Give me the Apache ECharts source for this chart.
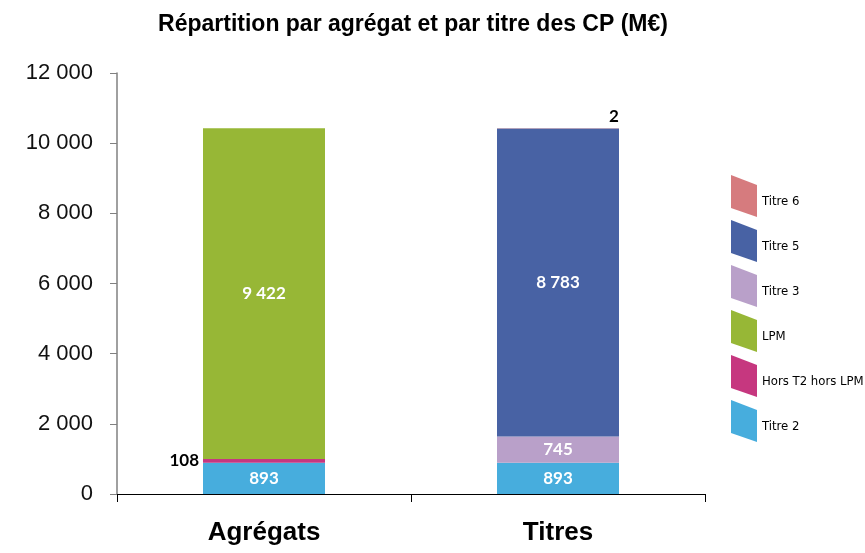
<!DOCTYPE html>
<html>
<head>
<meta charset="utf-8">
<script src="https://cdn.jsdelivr.net/npm/echarts@6/dist/echarts.min.js"></script>
<style>
  html, body { margin: 0; padding: 0; background: #fff; }
  #main { width: 865px; height: 553px; }
</style>
</head>
<body>
<div id="main"></div>
<script>
// catégories et valeurs (M€)
var categories = ['Agrégats', 'Titres'];
var titre2 = [893, 893];
var horsT2 = [108, null];
var lpm = [9422, null];
var titre3 = [null, 745];
var titre5 = [null, 8783];
var titre6 = [null, 2];
var legendOrder = ['Titre 6', 'Titre 5', 'Titre 3', 'LPM', 'Hors T2 hors LPM', 'Titre 2'];

// format "9 422"
function fr(v) {
  return String(v).replace(/\B(?=(\d{3})+(?!\d))/g, ' ');
}

var labelFont = 'Lato, "Open Sans", sans-serif';
var legendFont = '"DejaVu Sans Condensed", "Liberation Sans Narrow", sans-serif';
var whiteLabel = {
  show: true, position: 'inside', color: '#fff', fontWeight: 'bold',
  fontSize: 17, fontFamily: labelFont,
  formatter: function (p) { return fr(p.value); }
};

function bar(name, data, color, label) {
  return {
    name: name, type: 'bar', stack: 'cp', data: data, barWidth: 122,
    itemStyle: { color: color }, label: label
  };
}

var myChart = echarts.init(document.getElementById('main'));
myChart.setOption({
  animation: false,
  title: {
    text: 'Répartition par agrégat et par titre des CP (M€)',
    left: 408, top: 8, textAlign: 'center',
    textStyle: { fontFamily: '"Liberation Sans", Arial, sans-serif', fontSize: 23, fontWeight: 'bold', color: '#000' }
  },
  grid: { left: 117, right: 160, top: 73, bottom: 59 },
  legend: {
    data: legendOrder,
    orient: 'vertical',
    left: 731, top: 175, padding: 0,
    itemWidth: 26, itemHeight: 42, itemGap: 3,
    icon: 'path://M0,0 L26,10 L26,42 L0,33 Z',
    formatter: '{t|{name}}',
    textStyle: {
      fontFamily: legendFont, fontSize: 13, color: '#000',
      rich: { t: { fontFamily: legendFont, fontSize: 13, color: '#000', padding: [12, 0, 0, 0] } }
    }
  },
  xAxis: {
    type: 'category',
    data: categories,
    axisLine: { lineStyle: { color: '#000', width: 1.2 } },
    axisTick: { show: true, length: 8, lineStyle: { color: '#000' } },
    axisLabel: {
      margin: 26, color: '#000', fontSize: 26, fontWeight: 'bold',
      fontFamily: '"Liberation Sans", Arial, sans-serif'
    }
  },
  yAxis: {
    type: 'value', min: 0, max: 12000, interval: 2000,
    axisLine: { show: true, lineStyle: { color: '#808080', width: 1.5 } },
    axisTick: { show: true, length: 7, lineStyle: { color: '#808080' } },
    splitLine: { show: false },
    axisLabel: {
      margin: 24, color: '#111', fontSize: 22,
      fontFamily: '"Liberation Sans", Arial, sans-serif',
      formatter: function (v) { return fr(v); }
    }
  },
  series: [
    bar('Titre 2', titre2, '#47ADDD', whiteLabel),
    bar('Hors T2 hors LPM', horsT2, '#C6377F', {
      show: true, position: 'left', distance: 4, color: '#000', fontWeight: 'bold',
      fontSize: 17, fontFamily: labelFont, formatter: function (p) { return fr(p.value); }
    }),
    bar('LPM', lpm, '#97B736', whiteLabel),
    bar('Titre 3', titre3, '#B9A0C9', whiteLabel),
    bar('Titre 5', titre5, '#4862A4', whiteLabel),
    bar('Titre 6', titre6, '#D67B7E', {
      show: true, position: 'top', offset: [56, 2], color: '#000', fontWeight: 'bold',
      fontSize: 17, fontFamily: labelFont, formatter: function (p) { return fr(p.value); }
    })
  ]
});
</script>
</body>
</html>
